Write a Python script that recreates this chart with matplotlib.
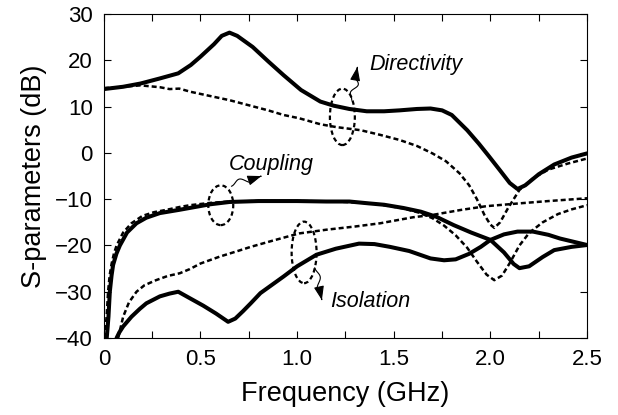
import numpy as np
import matplotlib
matplotlib.use('Agg')
import matplotlib.pyplot as plt
from matplotlib.patches import Ellipse, FancyArrowPatch
from matplotlib.path import Path
from matplotlib.transforms import IdentityTransform

plt.rcParams['font.family'] = ['Liberation Sans', 'DejaVu Sans']

# directivity (solid / dotted)
f_dir_s = [0, 0.1, 0.19, 0.29, 0.385, 0.45, 0.5, 0.57, 0.61, 0.65, 0.69, 0.77, 0.85, 0.93,
           1.02, 1.12, 1.19, 1.27, 1.36, 1.45, 1.53, 1.62, 1.69, 1.75, 1.8, 1.88, 1.94,
           1.99, 2.05, 2.1, 2.14, 2.18, 2.25, 2.33, 2.42, 2.5]
dir_s = [13.8, 14.3, 15.0, 16.1, 17.2, 19.0, 20.8, 23.5, 25.3, 26.0, 25.3, 22.9, 19.8, 16.8,
         13.6, 11.1, 10.2, 9.5, 9.0, 9.0, 9.2, 9.5, 9.6, 9.2, 8.2, 4.9, 2.0,
         -0.6, -3.8, -6.5, -7.8, -7.0, -4.6, -2.5, -1.0, -0.1]
f_dir_d = [0, 0.1, 0.19, 0.29, 0.34, 0.39, 0.45, 0.55, 0.65, 0.75, 0.85, 0.93, 1.01, 1.12,
           1.2, 1.33, 1.43, 1.53, 1.62, 1.70, 1.77, 1.84, 1.89, 1.93, 1.97, 2.0, 2.02,
           2.05, 2.09, 2.15, 2.22, 2.3, 2.4, 2.5]
dir_d = [14.0, 14.3, 14.6, 14.2, 13.8, 13.9, 13.2, 12.3, 11.4, 10.3, 9.2, 8.2, 7.5, 6.2,
         5.6, 4.9, 3.9, 2.8, 1.5, -0.1, -1.8, -4.4, -7.0, -10.0, -13.5, -15.5, -16.2,
         -15.0, -12.0, -8.0, -5.5, -3.6, -2.3, -1.2]

# coupling (solid / dotted)
f_cpl_s = [0.015, 0.019, 0.024, 0.031, 0.04, 0.048, 0.065, 0.083, 0.12, 0.169, 0.22, 0.29,
           0.39, 0.47, 0.55, 0.65, 0.8, 1.0, 1.15, 1.27, 1.37, 1.45, 1.55, 1.64, 1.72, 1.81,
           1.9, 2.0, 2.07, 2.12, 2.15, 2.2, 2.27, 2.33, 2.42, 2.5]
cpl_s = [-40, -38, -35.4, -30, -26.5, -24.2, -21.8, -20, -17.2, -15.2, -14.0, -13.0,
         -12.3, -11.7, -11.1, -10.6, -10.4, -10.4, -10.5, -10.5, -10.9, -11.2, -11.9, -12.7,
         -13.8, -15.6, -17.2, -18.8, -21.5, -24.0, -24.9, -24.5, -22.5, -21.0, -20.3, -19.9]
f_cpl_d = [0.005, 0.01, 0.015, 0.022, 0.03, 0.04, 0.052, 0.066, 0.1, 0.143, 0.2, 0.26, 0.324,
           0.39, 0.445, 0.55, 0.65, 0.8, 1.0, 1.2, 1.35, 1.45, 1.55, 1.63, 1.70, 1.76, 1.82,
           1.88, 1.93, 1.98, 2.02, 2.06, 2.1, 2.15, 2.2, 2.27, 2.35, 2.42, 2.5]
cpl_d = [-40, -37.5, -35, -30, -26.5, -24, -21.8, -20, -17.2, -15.2, -13.6, -12.8, -12.3,
         -11.7, -11.3, -10.8, -10.5, -10.4, -10.4, -10.5, -10.8, -11.3, -12.0, -12.9, -14.1,
         -15.7, -17.8, -20.5, -23.5, -26.3, -27.5, -26.5, -23.8, -20.0, -17.3, -15.0, -13.2,
         -12.2, -11.3]

# isolation (solid / dotted)
f_iso_s = [0.066, 0.08, 0.1, 0.143, 0.186, 0.22, 0.29, 0.34, 0.385, 0.445, 0.514, 0.58,
           0.643, 0.68, 0.72, 0.76, 0.81, 0.87, 0.93, 1.0, 1.1, 1.2, 1.32, 1.4, 1.48, 1.58,
           1.69, 1.76, 1.82, 1.89, 1.95, 2.0, 2.07, 2.14, 2.22, 2.3, 2.36, 2.43, 2.5]
iso_s = [-40, -38.8, -37.5, -35.4, -33.7, -32.5, -31.0, -30.4, -30.0, -31.4, -33.0, -34.7,
         -36.5, -35.8, -34.2, -32.5, -30.3, -28.5, -26.7, -24.5, -22.0, -20.7, -19.6, -19.7,
         -20.3, -21.2, -22.8, -23.2, -23.0, -21.8, -20.3, -18.8, -17.6, -17.0, -17.0, -17.7,
         -18.5, -19.2, -19.9]
f_iso_d = [0.074, 0.1, 0.13, 0.169, 0.21, 0.27, 0.33, 0.393, 0.445, 0.5, 0.6, 0.7, 0.76,
           0.87, 1.01, 1.15, 1.3, 1.43, 1.6, 1.7, 1.85, 1.98, 2.15, 2.3, 2.5]
iso_d = [-40, -35.4, -32.3, -30, -28.6, -27.5, -26.6, -26.0, -25.1, -23.9, -22.4, -21.1,
         -20.3, -19.0, -17.4, -16.6, -15.9, -15.2, -13.9, -13.4, -12.3, -11.5, -10.9, -10.4,
         -9.8]

x_ticks = [0, 0.5, 1.0, 1.5, 2.0, 2.5]
x_tick_labels = ['0', '0.5', '1.0', '1.5', '2.0', '2.5']
y_ticks = [-40, -30, -20, -10, 0, 10, 20, 30]

SOLID = dict(color='black', lw=2.9, solid_capstyle='round', solid_joinstyle='round')
DOTTED = dict(color='black', lw=1.8, linestyle=(0, (2.0, 1.2)))

fig = plt.figure(figsize=(6.18, 4.15), dpi=100)
ax = fig.add_axes([0.168, 0.1855, 0.782, 0.7805])

ax.plot(f_dir_d, dir_d, **DOTTED)
ax.plot(f_cpl_d, cpl_d, **DOTTED)
ax.plot(f_iso_d, iso_d, **DOTTED)
ax.plot(f_dir_s, dir_s, **SOLID)
ax.plot(f_cpl_s, cpl_s, **SOLID)
ax.plot(f_iso_s, iso_s, **SOLID)

ax.set_xlim(0, 2.5)
ax.set_ylim(-40, 30)
ax.set_xticks(x_ticks)
ax.set_xticklabels(x_tick_labels)
ax.set_xticks(np.arange(0.25, 2.5, 0.5), minor=True)
ax.set_yticks(y_ticks)
ax.tick_params(which='both', direction='in', top=True, right=True, length=5, width=0.8,
               labelsize=16)
ax.tick_params(axis='x', pad=8)
ax.tick_params(axis='y', pad=8)
for s in ax.spines.values():
    s.set_linewidth(0.8)

ax.set_xlabel('Frequency (GHz)', fontsize=19.5, labelpad=8)
ax.set_ylabel('S-parameters (dB)', fontsize=19.5, labelpad=6)

# dashed ellipses grouping each pair of curves
ellipses = [((0.605, -11.3), 0.129, 8.6),
            ((1.234, 7.8), 0.129, 12.2),
            ((1.036, -21.5), 0.129, 13.3)]
for c, w, h in ellipses:
    ax.add_patch(Ellipse(c, w, h, fill=False, edgecolor='black', lw=1.6,
                         linestyle=(0, (2.0, 1.4)), zorder=5))


def squiggle(p0, p1, amp, waves):
    # wavy leader line with an arrowhead, built in pixel space
    a = ax.transData.transform(p0)
    b = ax.transData.transform(p1)
    d = b - a
    n = np.array([-d[1], d[0]]) / np.hypot(*d)
    t = np.linspace(0, 1, 80)
    off = amp * np.sin(2 * np.pi * waves * t) * np.sin(np.pi * np.clip(t / 0.85, 0, 1))
    verts = a + np.outer(t, d) + np.outer(off, n)
    arrow = FancyArrowPatch(path=Path(verts), arrowstyle='-|>,head_length=0.6,head_width=0.22',
                            mutation_scale=14, lw=0.8, color='black',
                            transform=IdentityTransform())
    fig.add_artist(arrow)


squiggle((0.66, -7.2), (0.815, -5.0), 5, 1.0)
squiggle((1.282, 11.4), (1.312, 18.6), 4, 1.5)
squiggle((1.091, -24.8), (1.128, -31.8), 4, 1.0)

ann = dict(fontsize=15.5, style='italic', ha='center', va='center')
ax.text(0.864, -2.4, 'Coupling', **ann)
ax.text(1.613, 19.2, 'Directivity', **ann)
ax.text(1.377, -32.1, 'Isolation', **ann)

fig.savefig('out.png', dpi=100)
